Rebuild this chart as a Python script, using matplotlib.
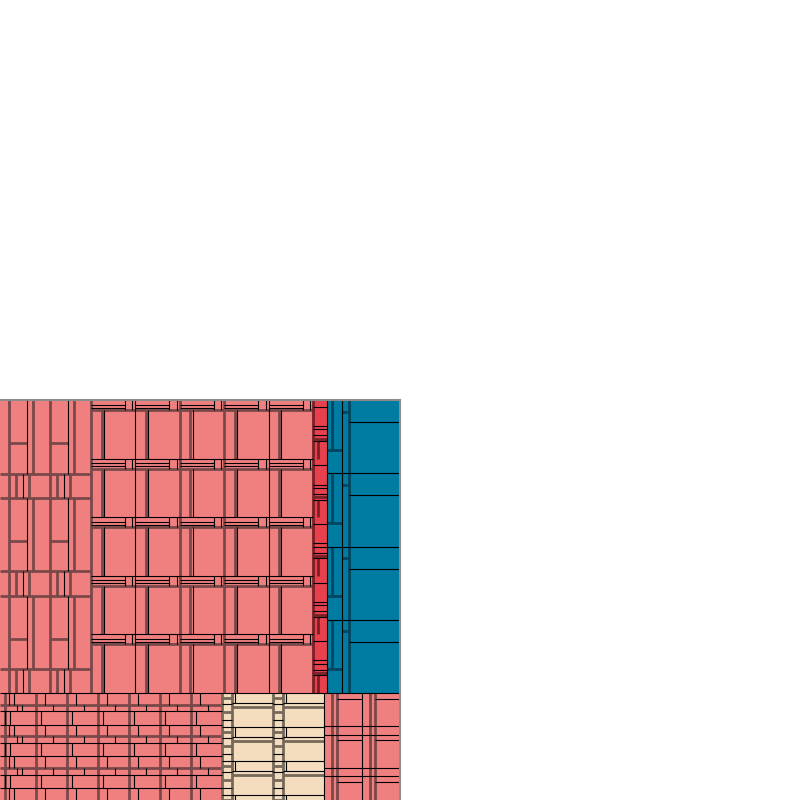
import numpy as np
import matplotlib.pyplot as plt
from matplotlib.patches import Rectangle

# 색상
salmon, salmon_dk = '#F08080', '#7A4848'
red, red_dk = '#E8414D', '#7A2027'
blue, blue_dk = '#007BA1', '#00465F'
beige, beige_dk = '#F3DDBE', '#76695A'
frame_c = '#8C8C8C'

#1. 데이터 (트리맵 크기값)
row_sizes = [293, 107]
top_sizes = [91, 222, 13.5, 73.5]
top_colors = [salmon, salmon, red, blue]
bot_sizes = [222, 102, 76]
bot_colors = [salmon, beige, salmon]

# A 블록
a_rows = [74, 24, 73, 25, 73, 24]
a_kind = ['big', 'small', 'big', 'small', 'big', 'small']
a_big_cols = [9, 23.7, 17.3, 24, 17]
a_big_split_cols = [1, 3]
a_big_sub = 17.7
a_big_hsplit = 42.7
a_small_cols = [9, 6.7, 13.6, 20.7, 6.7, 13.3, 21]
a_small_split_cols = [2, 5]
a_small_sub = 7.6

# B 블록
b_cols = [44.4, 44.4, 44.4, 44.4, 44.4]
b_col_line = ['k', 'd', 'd', 'k']
b_rows = [58.6, 58.6, 58.6, 58.6, 58.6]
b_strip_rows = [4.5, 3, 2.5]
b_strip_len = 34
b_strip_vx = [34, 41.3]
b_bar = [10.5, 12.8]

# C 블록
c_offsets = [6.7, 26, 29.3, 35.3, 38.7, 41]
c_styles = ['k', 'k', 'k', 'k', 'd', 'k']
c_vx = 5.3
c_vy = [41, 58.6]

# D 블록
d_rows = [73.3, 73.2, 73.3, 73.2]
d_cols = [15, 7.4, 51.1]
d_c1_split = 49.5
d_c1_vx = 5
d_c2_split = 11.5
d_c3_split = 22

# E 블록
e_cols = [5, 31, 31, 31, 31, 31, 31, 31]
e_rows = [11.7, 6.7, 13.3, 11.7, 6.7, 13.3, 11.7, 6.7, 13.3, 11.6]
e_kind = ['m', 's', 'b', 'm', 's', 'b', 'm', 's', 'b', 'm']
e_brick = {'b': 4.5, 'm': 8.5, 's': 17}
e_after = {'m': 'd', 's': 'k', 'b': 'k'}

# F 블록
f_cols = [10, 41, 10, 41]
f_rows = [34.3, 33.4, 34, 5.3]
f_wide_lines = [10, 14]
f_wide_styles = ['k', 'd']
f_wide_vx = 2.7
f_narrow_lines = [5, 11, 19, 27]
f_narrow_styles = ['d', 'k', 'd', 'k']

# G 블록
g_cols = [7.7, 5.6, 24.7, 7.7, 5.6, 24.7]
g_col_line = ['d', 'd', 'k', 'd', 'd']
g_rows = [33.3, 8.4, 33.3, 8.3, 23.7]
g_big = [True, False, True, False, True]
g_wide_cols = [2, 5]
g_wide_split = 5.5

K_LW = 0.8
D_LW = 2.0


def edges(start, sizes):
    return start + np.concatenate([[0], np.cumsum(sizes)])


def vl(x, y0, y1, c, lw):
    ax.vlines(x, y0, y1, colors=c, lw=lw, zorder=3 if c == 'k' else 2)


def hl(y, x0, x1, c, lw):
    ax.hlines(y, x0, x1, colors=c, lw=lw, zorder=3 if c == 'k' else 2)


def line_style(s, dk):
    return ('k', K_LW) if s == 'k' else (dk, D_LW)


fig = plt.figure(figsize=(8, 8), dpi=100)
ax = fig.add_axes([0, 0, 0.5, 0.5])
ax.set_xlim(0, 400)
ax.set_ylim(400, 0)
ax.set_xticks([])
ax.set_yticks([])
for s in ['left', 'bottom']:
    ax.spines[s].set_visible(False)
for s in ['top', 'right']:
    ax.spines[s].set_color(frame_c)
    ax.spines[s].set_linewidth(1.5)
    ax.spines[s].set_zorder(5)

ry = edges(0, row_sizes)
tx = edges(0, top_sizes)
bx_ = edges(0, bot_sizes)

# 바탕 채우기
for i, c in enumerate(top_colors):
    ax.add_patch(Rectangle((tx[i], ry[0]), tx[i+1]-tx[i], ry[1]-ry[0], fc=c, ec='none', zorder=1))
for i, c in enumerate(bot_colors):
    ax.add_patch(Rectangle((bx_[i], ry[1]), bx_[i+1]-bx_[i], ry[2]-ry[1], fc=c, ec='none', zorder=1))

# A
ay = edges(ry[0], a_rows)
for i in range(len(a_rows)):
    y0, y1 = ay[i], ay[i+1]
    if a_kind[i] == 'big':
        cx = edges(tx[0], a_big_cols)
        for x in cx[1:-1]:
            vl(x, y0, y1, salmon_dk, D_LW)
        for j in a_big_split_cols:
            sx = cx[j] + a_big_sub
            vl(sx, y0, y1, 'k', K_LW)
            hl(y0 + a_big_hsplit, cx[j], sx, salmon_dk, D_LW)
    else:
        cx = edges(tx[0], a_small_cols)
        for x in cx[1:-1]:
            vl(x, y0, y1, salmon_dk, D_LW)
        for j in a_small_split_cols:
            vl(cx[j] + a_small_sub, y0, y1, 'k', K_LW)
    if i < len(a_rows) - 1:
        hl(y1, tx[0], tx[1], salmon_dk, D_LW)

# B
bcx = edges(tx[1], b_cols)
bcy = edges(ry[0], b_rows)
for i in range(len(b_rows)):
    for j in range(len(b_cols)):
        x0, y0 = bcx[j], bcy[i]
        w, h = bcx[j+1] - x0, bcy[i+1] - y0
        sy = edges(y0, b_strip_rows)
        hl(sy[1], x0, x0 + b_strip_len, 'k', K_LW)
        hl(sy[2], x0, x0 + b_strip_len, 'k', K_LW)
        hl(sy[3], x0, x0 + w, salmon_dk, D_LW)
        for off in b_strip_vx:
            vl(x0 + off, y0, sy[3], 'k', K_LW)
        vl(x0 + b_bar[0], sy[3], y0 + h, salmon_dk, D_LW)
        vl(x0 + b_bar[1], sy[3], y0 + h, 'k', K_LW)
for j, x in enumerate(bcx[1:-1]):
    c, lw = line_style(b_col_line[j], salmon_dk)
    vl(x, ry[0], ry[1], c, lw)
for y in bcy[1:-1]:
    hl(y, tx[1], tx[2], 'k', K_LW)

# C
for p in range(len(b_rows)):
    base = bcy[p]
    for off, st in zip(c_offsets, c_styles):
        c, lw = line_style(st, red_dk)
        hl(base + off, tx[2], tx[3], c, lw)
    vl(tx[2] + c_vx, base + c_vy[0], base + c_vy[1], red_dk, D_LW)

# D
dy = edges(ry[0], d_rows)
dx = edges(tx[3], d_cols)
vl(dx[1], ry[0], ry[1], 'k', K_LW)
vl(dx[2], ry[0], ry[1], blue_dk, D_LW)
for i in range(len(d_rows)):
    y0 = dy[i]
    hl(y0 + d_c1_split, dx[0], dx[1], blue_dk, D_LW)
    vl(dx[0] + d_c1_vx, y0, y0 + d_c1_split, blue_dk, D_LW)
    hl(y0 + d_c2_split, dx[1], dx[2], blue_dk, D_LW)
    hl(y0 + d_c3_split, dx[2], tx[4], 'k', K_LW)
    if i < len(d_rows) - 1:
        hl(dy[i+1], tx[3], tx[4], 'k', K_LW)

# E
ex = edges(bx_[0], e_cols)
ey = edges(ry[1], e_rows)
for i, k in enumerate(e_kind):
    y0, y1 = ey[i], ey[i+1]
    for j in range(len(e_cols)):
        bxk = ex[j] + e_brick[k]
        if bxk < ex[-1]:
            vl(bxk, y0, y1, 'k', K_LW)
    if i < len(e_kind) - 1:
        c, lw = line_style(e_after[k], salmon_dk)
        hl(y1, ex[0], ex[-1], c, lw)
for x in ex[1:-1]:
    vl(x, ry[1], ry[2], salmon_dk, D_LW)

# F
fx = edges(bx_[1], f_cols)
fy = edges(ry[1], f_rows)
for i in range(len(f_rows)):
    y0, y1 = fy[i], fy[i+1]
    for j in range(len(f_cols)):
        x0, x1 = fx[j], fx[j+1]
        if f_cols[j] > 20:
            for off, st in zip(f_wide_lines, f_wide_styles):
                if y0 + off < y1:
                    c, lw = line_style(st, beige_dk)
                    hl(y0 + off, x0, x1, c, lw)
            vl(x0 + f_wide_vx, y0, min(y0 + f_wide_lines[0], y1), 'k', K_LW)
        else:
            for off, st in zip(f_narrow_lines, f_narrow_styles):
                if y0 + off < y1:
                    c, lw = line_style(st, beige_dk)
                    hl(y0 + off, x0, x1, c, lw)
    if i < len(f_rows) - 1:
        hl(y1, fx[0], fx[-1], 'k', K_LW)
for x in fx[1:-1]:
    vl(x, ry[1], ry[2], beige_dk, D_LW)

# G
gx = edges(bx_[2], g_cols)
gy = edges(ry[1], g_rows)
for i in range(len(g_rows)):
    y0, y1 = gy[i], gy[i+1]
    if g_big[i]:
        for j in g_wide_cols:
            hl(y0 + g_wide_split, gx[j], gx[j+1], 'k', K_LW)
    if i < len(g_rows) - 1:
        hl(y1, gx[0], gx[-1], 'k', K_LW)
for j, x in enumerate(gx[1:-1]):
    c, lw = line_style(g_col_line[j], salmon_dk)
    vl(x, ry[1], ry[2], c, lw)

# 블록 경계
hl(ry[1], 0, 400, 'k', K_LW)
vl(tx[1], ry[0], ry[1], salmon_dk, D_LW)
vl(tx[2], ry[0], ry[1], red_dk, D_LW)
vl(tx[3], ry[0], ry[1], 'k', K_LW)
vl(bx_[1], ry[1], ry[2], beige_dk, D_LW)
vl(bx_[2], ry[1], ry[2], 'k', K_LW)

fig.savefig('out.png', dpi=100)
